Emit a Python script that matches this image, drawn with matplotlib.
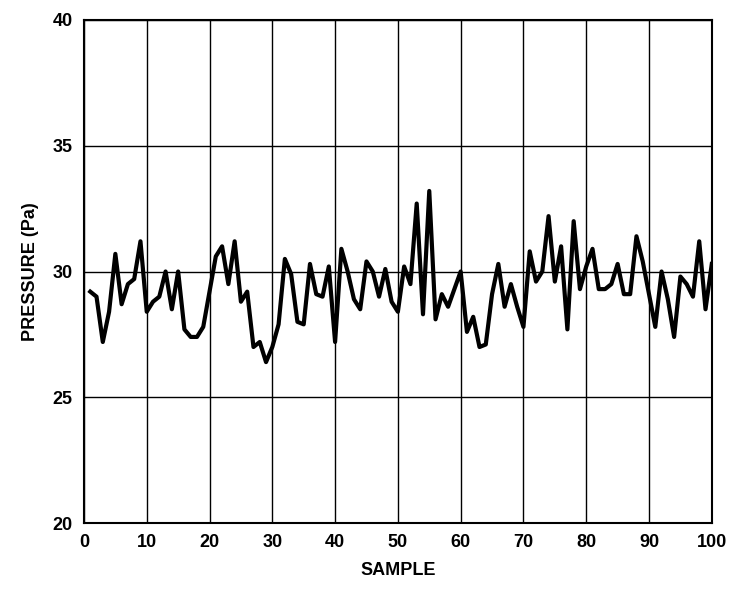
import matplotlib.pyplot as plt
import numpy as np

plt.rcParams['font.family'] = ['Liberation Sans', 'DejaVu Sans']

samples = np.arange(1, 101)
pressure = [29.2, 29.0, 27.2, 28.4, 30.7, 28.7, 29.5, 29.7, 31.2, 28.4,
            28.8, 29.0, 30.0, 28.5, 30.0, 27.7, 27.4, 27.4, 27.8, 29.2,
            30.6, 31.0, 29.5, 31.2, 28.8, 29.2, 27.0, 27.2, 26.4, 27.0,
            27.9, 30.5, 29.9, 28.0, 27.9, 30.3, 29.1, 29.0, 30.2, 27.2,
            30.9, 30.0, 28.9, 28.5, 30.4, 30.0, 29.0, 30.1, 28.8, 28.4,
            30.2, 29.5, 32.7, 28.3, 33.2, 28.1, 29.1, 28.6, 29.3, 30.0,
            27.6, 28.2, 27.0, 27.1, 29.1, 30.3, 28.6, 29.5, 28.6, 27.8,
            30.8, 29.6, 30.0, 32.2, 29.6, 31.0, 27.7, 32.0, 29.3, 30.2,
            30.9, 29.3, 29.3, 29.5, 30.3, 29.1, 29.1, 31.4, 30.4, 29.1,
            27.8, 30.0, 28.9, 27.4, 29.8, 29.5, 29.0, 31.2, 28.5, 30.3]

fig = plt.figure(figsize=(7.43, 6.0), dpi=100)
ax = fig.add_axes([0.113, 0.128, 0.845, 0.839])
ax.plot(samples, pressure, color='black', linewidth=3)
ax.set_xlim(0, 100)
ax.set_ylim(20, 40)
ax.set_xticks(np.arange(0, 101, 10))
ax.set_yticks(np.arange(20, 41, 5))
ax.grid(True, color='black', linewidth=1)
for s in ax.spines.values():
    s.set_linewidth(1.5)
ax.tick_params(labelsize=13, length=0, pad=8)
for lbl in ax.get_xticklabels() + ax.get_yticklabels():
    lbl.set_fontweight('bold')
ax.set_xlabel('SAMPLE', fontsize=13, fontweight='bold', labelpad=8)
ax.set_ylabel('PRESSURE (Pa)', fontsize=13, fontweight='bold', labelpad=10)
fig.savefig('out.png')
